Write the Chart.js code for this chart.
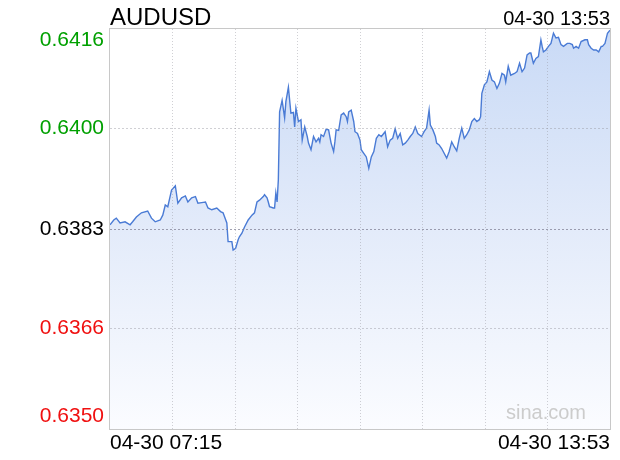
<!DOCTYPE html>
<html>
<head>
<meta charset="utf-8">
<title>AUDUSD</title>
<script src="https://cdn.jsdelivr.net/npm/chart.js@4.4.1/dist/chart.umd.min.js"></script>
<style>
  html, body { margin: 0; padding: 0; background: #fff; }
  canvas { display: block; }
</style>
</head>
<body>
<canvas id="grafico" width="620" height="460"></canvas>
<script>
// Dados (minutos desde 07:15 e cotação)
const simbolo = "AUDUSD";
const horaAtual = "04-30 13:53";
const rotulosTempo = ["04-30 07:15", "04-30 13:53"];
const marcaDagua = "sina.com";

const minutos = [
  0, 3, 5, 8, 12, 16, 18, 21, 25, 30, 33, 36, 40, 42, 44, 46, 49, 52, 54, 57,
  60, 62, 65, 68, 70, 73, 76, 78, 81, 85, 88, 90, 93, 94, 97, 98, 100, 102, 103, 105,
  107, 110, 113, 115, 117, 119, 121, 122, 123, 125, 126, 127, 130, 131, 132, 133, 134, 135, 137, 139,
  140, 142, 144, 146, 147, 148, 150, 152, 153, 155, 157, 158, 160, 162, 164, 166, 167, 168, 170, 172,
  174, 175, 176, 178, 179, 180, 182, 184, 186, 188, 189, 190, 192, 194, 195, 197, 199, 200, 202, 204,
  206, 208, 210, 212, 214, 216, 219, 221, 223, 225, 227, 229, 231, 233, 235, 237, 239, 241, 243, 245,
  248, 250, 252, 254, 255, 257, 259, 260, 262, 264, 268, 270, 272, 274, 276, 278, 280, 282, 284, 286,
  288, 290, 292, 294, 295, 296, 298, 300, 302, 304, 306, 308, 310, 312, 314, 315, 317, 319, 322, 324,
  326, 328, 330, 332, 334, 335, 337, 339, 341, 343, 344, 345, 347, 349, 351, 353, 355, 357, 359, 361,
  364, 366, 368, 369, 371, 373, 375, 378, 380, 381, 383, 385, 387, 389, 391, 392, 394, 396, 398
];

const cotacoes = [
  0.63837, 0.63845, 0.63848, 0.63840, 0.63842, 0.63837, 0.63842, 0.63850, 0.63857, 0.63860,
  0.63848, 0.63842, 0.63845, 0.63853, 0.63870, 0.63867, 0.63895, 0.63902, 0.63873, 0.63882,
  0.63885, 0.63875, 0.63882, 0.63884, 0.63873, 0.63874, 0.63875, 0.63865, 0.63862, 0.63865,
  0.63859, 0.63857, 0.63840, 0.63809, 0.63809, 0.63795, 0.63798, 0.63812, 0.63817, 0.63823,
  0.63833, 0.63845, 0.63853, 0.63857, 0.63875, 0.63878, 0.63882, 0.63884, 0.63887, 0.63882,
  0.63875, 0.63867, 0.63865, 0.63865, 0.63890, 0.63875, 0.63912, 0.64025, 0.64044, 0.64015,
  0.64042, 0.64066, 0.64023, 0.64024, 0.64000, 0.64031, 0.64009, 0.64012, 0.63978, 0.64000,
  0.63984, 0.63973, 0.63962, 0.63984, 0.63975, 0.63981, 0.63975, 0.63987, 0.63984, 0.63996,
  0.63995, 0.63984, 0.63973, 0.63959, 0.63975, 0.63995, 0.63994, 0.64020, 0.64023, 0.64017,
  0.64009, 0.64025, 0.64028, 0.64009, 0.63992, 0.63989, 0.63978, 0.63962, 0.63956, 0.63950,
  0.63931, 0.63950, 0.63959, 0.63981, 0.63987, 0.63984, 0.63992, 0.63967, 0.63978, 0.63981,
  0.63997, 0.63981, 0.63989, 0.63970, 0.63973, 0.63978, 0.63984, 0.63989, 0.64000, 0.63989,
  0.63984, 0.63992, 0.63998, 0.64028, 0.64003, 0.63995, 0.63984, 0.63973, 0.63970, 0.63964,
  0.63948, 0.63959, 0.63975, 0.63967, 0.63960, 0.63981, 0.63998, 0.63981, 0.63987, 0.63995,
  0.64009, 0.64014, 0.64009, 0.64012, 0.64017, 0.64056, 0.64070, 0.64075, 0.64092, 0.64078,
  0.64075, 0.64064, 0.64073, 0.64089, 0.64086, 0.64075, 0.64101, 0.64086, 0.64089, 0.64092,
  0.64106, 0.64092, 0.64098, 0.64120, 0.64123, 0.64123, 0.64106, 0.64114, 0.64117, 0.64145,
  0.64134, 0.64125, 0.64128, 0.64134, 0.64139, 0.64156, 0.64148, 0.64149, 0.64137, 0.64134,
  0.64139, 0.64139, 0.64137, 0.64131, 0.64134, 0.64131, 0.64142, 0.64145, 0.64145, 0.64137,
  0.64131, 0.64128, 0.64128, 0.64125, 0.64134, 0.64134, 0.64139, 0.64156, 0.64161
];

// Eixo Y: fechamento anterior no meio
const ticksY = [0.63497, 0.63664, 0.63830, 0.63997, 0.64163];
const rotulosY = ["0.6350", "0.6366", "0.6383", "0.6400", "0.6416"];
const fechamentoAnterior = 0.63830;

const fonte = "'Liberation Sans', Arial, sans-serif";

// Plugin para textos e moldura
const textos = {
    id: 'textos',
    afterDraw(chart) {
        const { ctx, chartArea } = chart;
        const y = chart.scales.y;
        ctx.save();

        // moldura
        ctx.strokeStyle = '#c8c8c8';
        ctx.lineWidth = 1;
        ctx.strokeRect(chartArea.left - 0.5, chartArea.top - 0.5,
            chartArea.right - chartArea.left + 1, chartArea.bottom - chartArea.top + 1);

        // título e hora
        ctx.fillStyle = '#000';
        ctx.textBaseline = 'alphabetic';
        ctx.font = '24px ' + fonte;
        ctx.textAlign = 'left';
        ctx.fillText(simbolo, chartArea.left, 25);
        ctx.font = '20px ' + fonte;
        ctx.textAlign = 'right';
        ctx.fillText(horaAtual, chartArea.right, 25);

        // rótulos do eixo Y
        ctx.font = '21px ' + fonte;
        ctx.textBaseline = 'middle';
        ticksY.forEach((v, i) => {
            let py = y.getPixelForValue(v);
            if (i === ticksY.length - 1) py += 11;
            if (i === 0) py -= 13;
            if (v > fechamentoAnterior + 1e-6) ctx.fillStyle = '#00a000';
            else if (v < fechamentoAnterior - 1e-6) ctx.fillStyle = '#f01010';
            else ctx.fillStyle = '#000';
            ctx.fillText(rotulosY[i], chartArea.left - 6, py);
        });

        // rótulos do eixo X
        ctx.fillStyle = '#000';
        ctx.textBaseline = 'alphabetic';
        ctx.textAlign = 'left';
        ctx.fillText(rotulosTempo[0], chartArea.left, chartArea.bottom + 20);
        ctx.textAlign = 'right';
        ctx.fillText(rotulosTempo[1], chartArea.right, chartArea.bottom + 20);

        // marca d'água
        ctx.font = '20px ' + fonte;
        ctx.fillStyle = '#cccccc';
        ctx.fillText(marcaDagua, chartArea.right - 24, chartArea.bottom - 10);

        ctx.restore();
    }
};

function gradiente(context) {
    const { ctx, chartArea } = context.chart;
    if (!chartArea) return 'rgba(200,218,246,0.6)';
    const g = ctx.createLinearGradient(0, chartArea.top, 0, chartArea.bottom);
    g.addColorStop(0, '#c9daf6');
    g.addColorStop(0.5, '#e3ebfa');
    g.addColorStop(1, '#fbfcff');
    return g;
}

const ctx = document.getElementById('grafico').getContext('2d');
const chart = new Chart(ctx, {
    type: 'line',
    data: {
        datasets: [{
            data: minutos.map((m, i) => ({ x: m, y: cotacoes[i] })),
            borderColor: '#4a7bd5',
            borderWidth: 1.4,
            backgroundColor: gradiente,
            fill: 'start',
            pointRadius: 0,
            tension: 0
        }]
    },
    options: {
        responsive: false,
        animation: false,
        layout: { padding: { left: 110, right: 10, top: 29, bottom: 31 } },
        plugins: {
            legend: { display: false },
            tooltip: { enabled: false }
        },
        scales: {
            x: {
                type: 'linear',
                min: 0,
                max: 398,
                afterBuildTicks: (s) => {
                    const t = [];
                    for (let k = 0; k <= 8; k++) t.push({ value: s.min + (s.max - s.min) * k / 8 });
                    s.ticks = t;
                },
                ticks: { display: false },
                grid: {
                    z: 1,
                    drawTicks: false,
                    color: (c) => (c.index === 0 || c.index === 8) ? 'rgba(0,0,0,0)' : 'rgba(150,150,160,0.45)'
                },
                border: { display: false, dash: [1, 2] }
            },
            y: {
                min: ticksY[0],
                max: ticksY[ticksY.length - 1],
                afterBuildTicks: (s) => {
                    s.ticks = ticksY.map(v => ({ value: v }));
                },
                ticks: { display: false },
                grid: {
                    z: 1,
                    drawTicks: false,
                    color: (c) => {
                        if (c.index === 0 || c.index === ticksY.length - 1) return 'rgba(0,0,0,0)';
                        if (c.index === 2) return 'rgba(130,130,150,0.75)';
                        return 'rgba(150,150,160,0.45)';
                    }
                },
                border: { display: false, dash: [2, 2] }
            }
        }
    },
    plugins: [textos]
});
</script>
</body>
</html>
